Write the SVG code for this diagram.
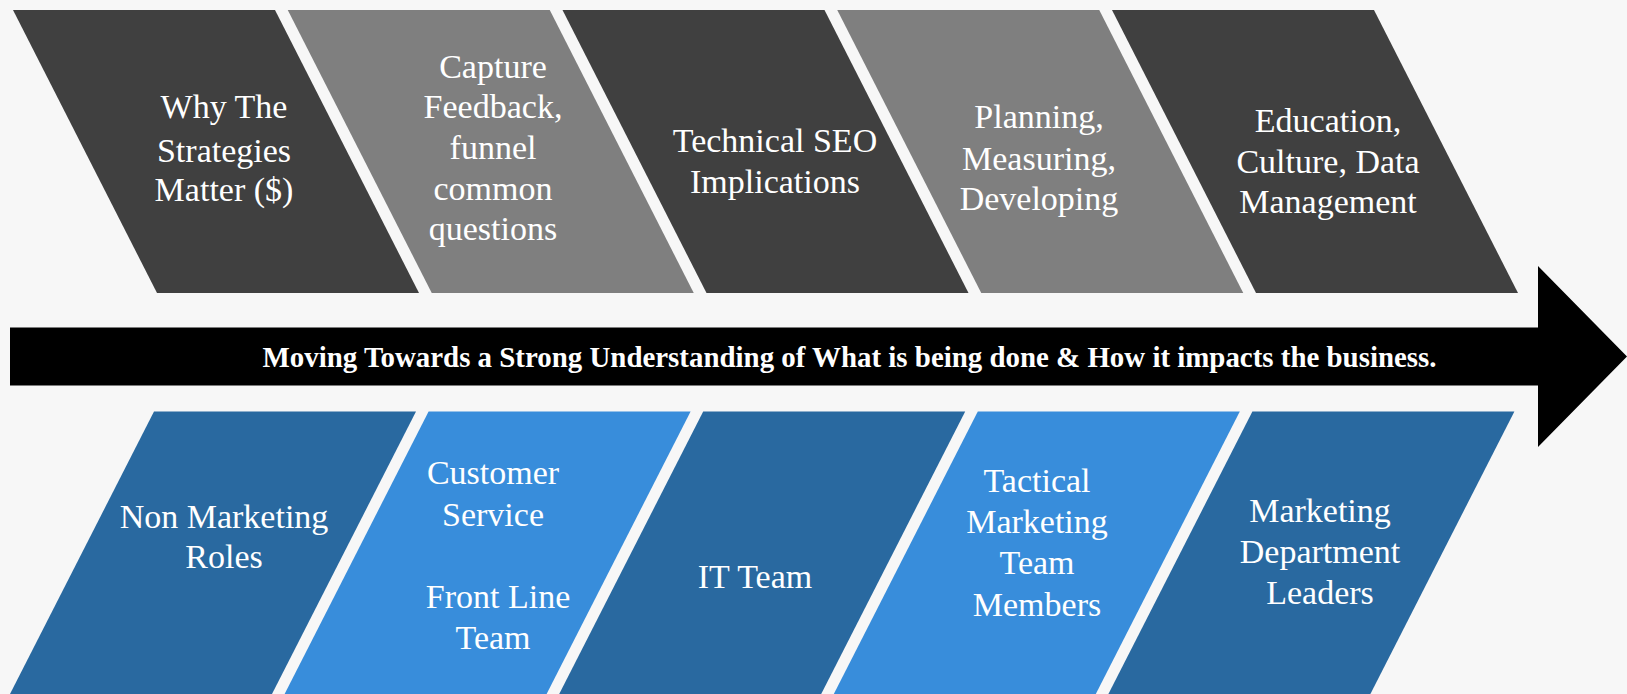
<svg xmlns="http://www.w3.org/2000/svg" width="1627" height="694" viewBox="0 0 1627 694">
  <style>
    .bg { fill: #f7f7f7; }
    .dark-grey { fill: #404040; }
    .mid-grey { fill: #7f7f7f; }
    .dark-blue { fill: #2969a0; }
    .light-blue { fill: #388ddb; }
    .label { font-family: "Liberation Serif", "Times New Roman", serif; font-size: 34px; fill: #ffffff; text-anchor: middle; }
    .banner { font-family: "Liberation Serif", "Times New Roman", serif; font-size: 28.9px; font-weight: bold; fill: #ffffff; text-anchor: middle; }
    .arrow { fill: #000000; }
  </style>

  <rect class="bg" x="0" y="0" width="1627" height="694"/>

  <!-- Upper row: topics (slanted backwards) -->
  <g id="topic-why">
    <polygon class="dark-grey" points="13,10 275,10 419,293 157,293"/>
    <text class="label" x="224" y="118">Why The</text>
    <text class="label" x="224" y="162">Strategies</text>
    <text class="label" x="224" y="201">Matter ($)</text>
  </g>
  <g id="topic-feedback">
    <polygon class="mid-grey" points="287.75,10 549.75,10 693.75,293 431.75,293"/>
    <text class="label" x="493" y="78">Capture</text>
    <text class="label" x="493" y="118">Feedback,</text>
    <text class="label" x="493" y="159">funnel</text>
    <text class="label" x="493" y="200">common</text>
    <text class="label" x="493" y="240">questions</text>
  </g>
  <g id="topic-seo">
    <polygon class="dark-grey" points="562.5,10 824.5,10 968.5,293 706.5,293"/>
    <text class="label" x="775" y="152">Technical SEO</text>
    <text class="label" x="775" y="193">Implications</text>
  </g>
  <g id="topic-planning">
    <polygon class="mid-grey" points="837.25,10 1099.25,10 1243.25,293 981.25,293"/>
    <text class="label" x="1039" y="128">Planning,</text>
    <text class="label" x="1039" y="170">Measuring,</text>
    <text class="label" x="1039" y="210">Developing</text>
  </g>
  <g id="topic-education">
    <polygon class="dark-grey" points="1112,10 1374,10 1518,293 1256,293"/>
    <text class="label" x="1328" y="132">Education,</text>
    <text class="label" x="1328" y="173">Culture, Data</text>
    <text class="label" x="1328" y="213">Management</text>
  </g>

  <!-- Central progress arrow -->
  <g id="connectors">
    <polygon class="arrow" points="10,327.5 1538,327.5 1538,266 1627,356.5 1538,447 1538,385.5 10,385.5"/>
    <text class="banner" x="849.5" y="367">Moving Towards a Strong Understanding of What is being done &amp; How it impacts the business.</text>
  </g>

  <!-- Lower row: audiences (slanted forwards) -->
  <g id="audience-non-marketing">
    <polygon class="dark-blue" points="154,411.5 416,411.5 272,694 10,694"/>
    <text class="label" x="224" y="528">Non Marketing</text>
    <text class="label" x="224" y="568">Roles</text>
  </g>
  <g id="audience-customer-service">
    <polygon class="light-blue" points="428.6,411.5 690.6,411.5 546.6,694 284.6,694"/>
    <text class="label" x="493" y="484">Customer</text>
    <text class="label" x="493" y="526">Service</text>
    <text class="label" x="498" y="608">Front Line</text>
    <text class="label" x="493" y="649">Team</text>
  </g>
  <g id="audience-it">
    <polygon class="dark-blue" points="703.2,411.5 965.2,411.5 821.2,694 559.2,694"/>
    <text class="label" x="755" y="588">IT Team</text>
  </g>
  <g id="audience-tactical">
    <polygon class="light-blue" points="977.8,411.5 1239.8,411.5 1095.8,694 833.8,694"/>
    <text class="label" x="1037" y="492">Tactical</text>
    <text class="label" x="1037" y="533">Marketing</text>
    <text class="label" x="1037" y="574">Team</text>
    <text class="label" x="1037" y="616">Members</text>
  </g>
  <g id="audience-leaders">
    <polygon class="dark-blue" points="1252.4,411.5 1514.4,411.5 1370.4,694 1108.4,694"/>
    <text class="label" x="1320" y="522">Marketing</text>
    <text class="label" x="1320" y="563">Department</text>
    <text class="label" x="1320" y="604">Leaders</text>
  </g>
</svg>
